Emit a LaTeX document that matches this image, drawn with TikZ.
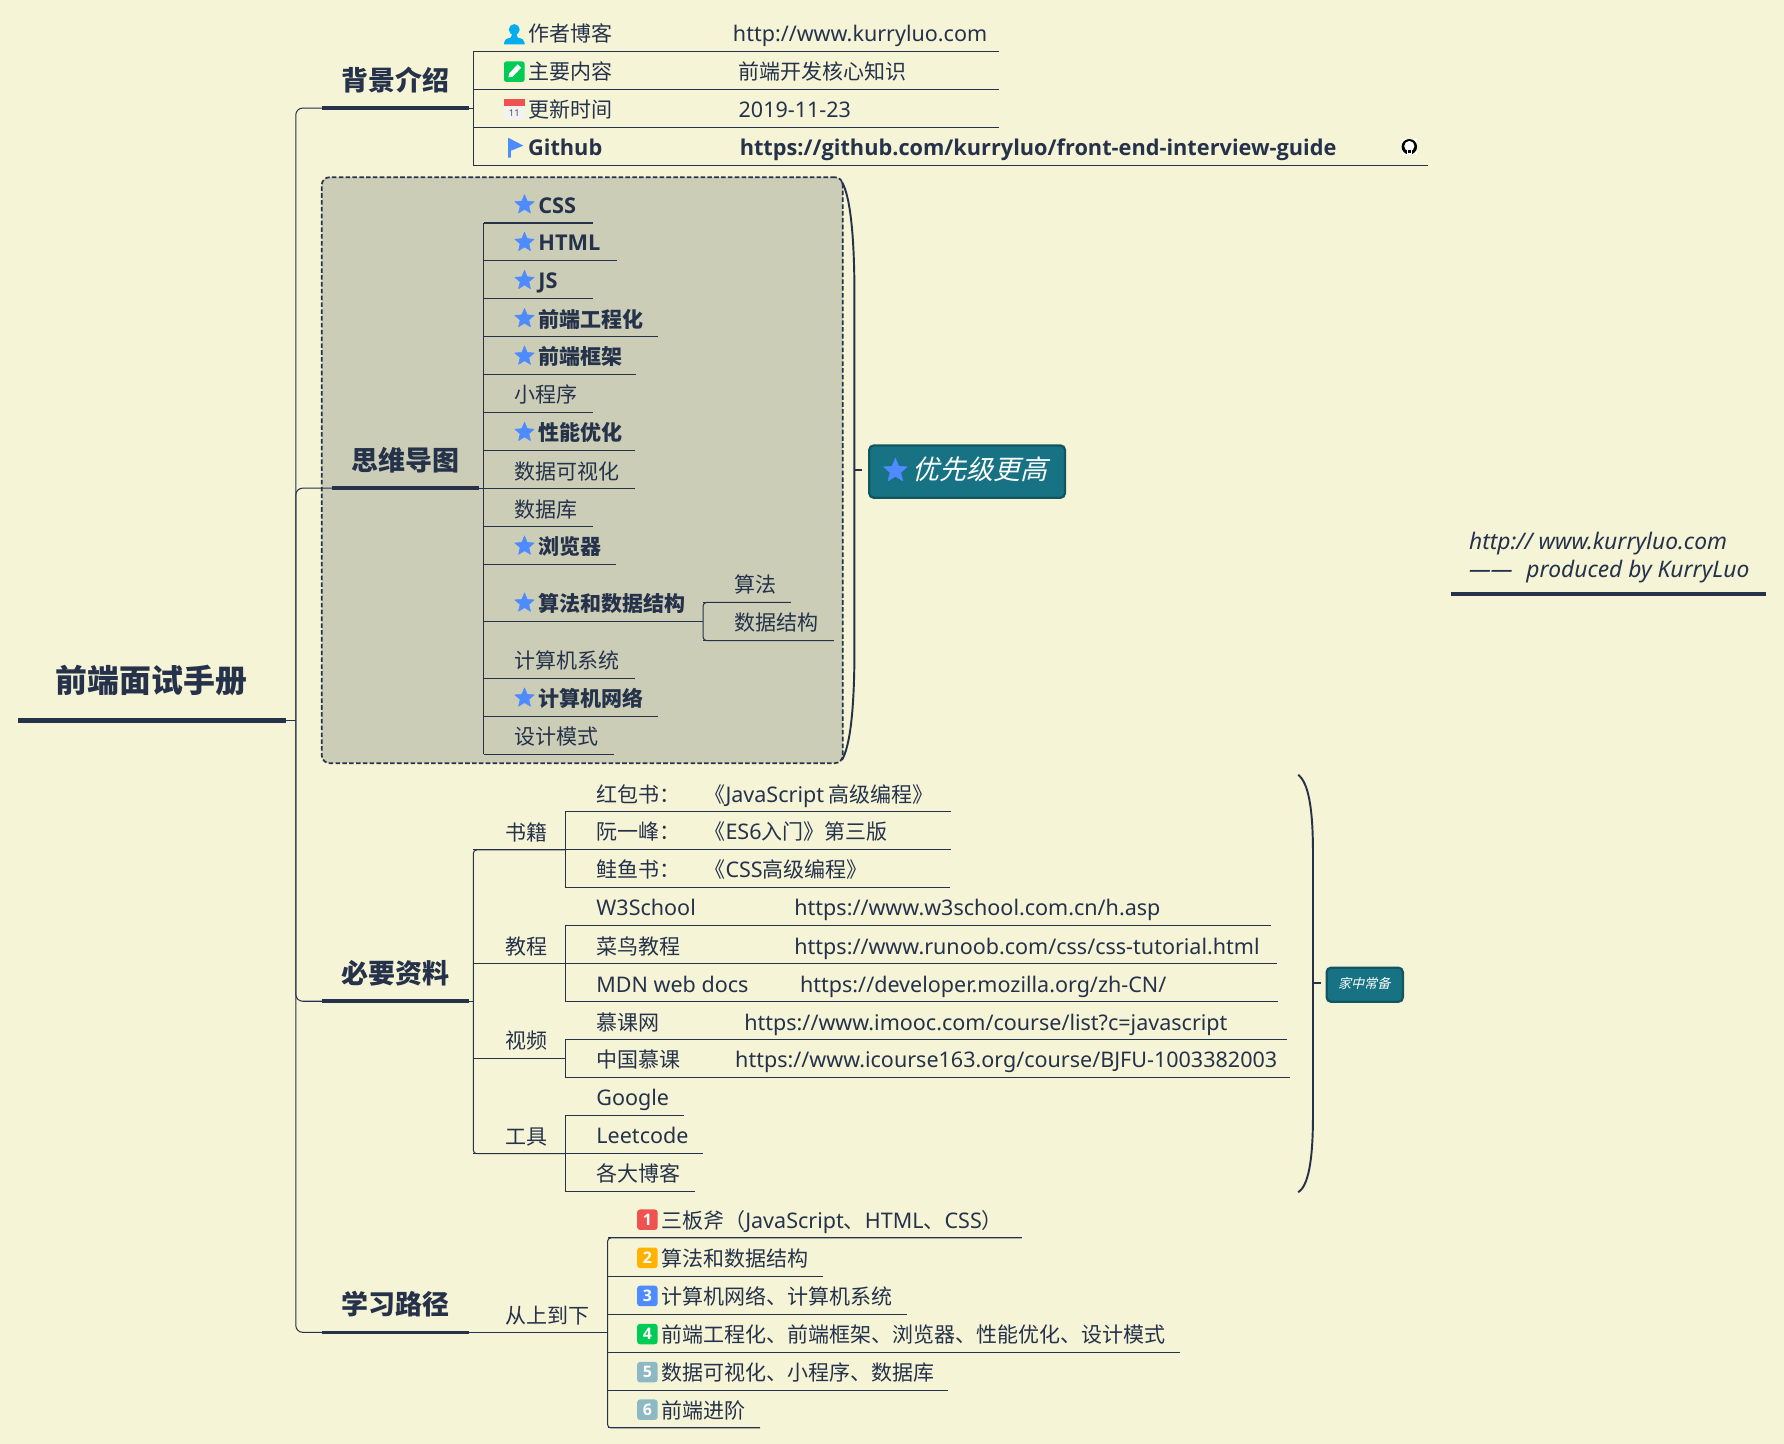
\documentclass[tikz,border=0pt]{standalone}
\usepackage{fontspec}
\setmainfont{Noto Sans CJK SC}
\newfontfamily\lat{Noto Sans}[Scale=1.025]
\newfontfamily\latb{Open Sans}[Scale=1.035]
\newfontfamily\ltit{Noto Sans}[Scale=1.085]
\newfontfamily\cjkit{Noto Sans CJK SC}[FakeSlant=0.25,Color=FFFFFF]
\newcommand{\la}[1]{{\lat #1}}
\newcommand{\lab}[1]{{\latb\bfseries #1}}
\definecolor{bgc}{HTML}{F5F4D7}
\definecolor{ink}{HTML}{25324A}
\definecolor{panelc}{HTML}{CBCDB7}
\definecolor{tealc}{HTML}{177383}
\definecolor{tealb}{HTML}{135560}
\definecolor{starc}{HTML}{4D8BFF}
\definecolor{n1}{HTML}{F0524F}
\definecolor{n2}{HTML}{FFB300}
\definecolor{n4}{HTML}{00CC55}
\definecolor{n5}{HTML}{8CB9C4}
\definecolor{cyanic}{HTML}{00AEEF}
\tikzset{
  link/.style={draw=ink,line width=0.9pt},
  thickl/.style={draw=ink,line width=3.2pt},
  brk/.style={draw=ink,line width=1.7pt},
  txt/.style={anchor=base west,inner sep=0pt,text=ink,font=\fontsize{18.46}{20}\selectfont},
  btxt/.style={txt,font=\fontsize{18.46}{20}\selectfont\bfseries},
  topictxt/.style={anchor=base,inner sep=0pt,text=ink,font=\fontsize{23.7}{26}\selectfont\bfseries},
  badge/.style={draw=tealb,fill=tealc,line width=2pt,rounded corners=4pt},
  staricon/.pic={\fill[starc,draw=starc,line width=0.4pt,line join=round,scale=#1]
    (0,-1)--(.265,-.364)--(.951,-.309)--(.428,.139)--(.588,.809)--(0,.45)--(-.588,.809)--(-.428,.139)--(-.951,-.309)--(-.265,-.364)--cycle;},
  numicon/.pic={\fill[#1,rounded corners=2.5pt] (-9,-9) rectangle (9,9);},
}
\newcommand{\rowl}[6]{% name,x0,x1,yline,textx,text
  \node[txt] (#1) at (#5,#4-8.5) {#6};
  \coordinate (#1L) at (#2,#4); \coordinate (#1R) at (#3,#4);
  \draw[link] (#1L) -- (#1R);}
\newcommand{\rowb}[6]{%
  \node[btxt] (#1) at (#5,#4-8.5) {#6};
  \coordinate (#1L) at (#2,#4); \coordinate (#1R) at (#3,#4);
  \draw[link] (#1L) -- (#1R);}
\newcommand{\rowstar}[5]{% name,x0,x1,yline,text
  \rowb{#1}{#2}{#3}{#4}{473}{#5}
  \path (461,#4-16) pic {staricon=9};}
\newcommand{\topicn}[5]{% name,x0,x1,yline,text
  \node[topictxt] (#1) at ({(#2+#3)/2},#4-15.5) {#5};
  \coordinate (#1L) at (#2,#4); \coordinate (#1R) at (#3,#4);
  \draw[thickl] (#1L) -- (#1R);}
\newcommand{\valn}[4]{\node[txt] (#1) at (#2,#3+1) {#4};}
\newcommand{\numrow}[7]{% name,x1,yline,color,num,text
  \rowl{#1}{534}{#2}{#3}{581}{#6}
  \path (569,#3-16) pic {numicon=#4};
  \node[inner sep=0pt,text=white,font=\fontsize{13.5}{14}\selectfont\latb\bfseries] (#1n) at (569,#3-16) {#5};}
\begin{document}
\begin{tikzpicture}[x=1pt,y=-1pt]
\useasboundingbox (0,0) rectangle (1568,1269.15);
\fill[bgc] (0,0) rectangle (1568,1269.15);

% root
\node[anchor=base,inner sep=0pt,text=ink,font=\fontsize{28}{30}\selectfont\bfseries] (root) at (133,609) {前端面试手册};
\coordinate (rootL) at (16,633); \coordinate (rootR) at (251,633);
\draw[draw=ink,line width=4.5pt] (rootL) -- (rootR);
\coordinate (tr) at (260,633);

% panel first
\node[draw=ink,fill=panelc,line width=1.5pt,dash pattern=on 4pt off 2pt,rounded corners=7pt,minimum width=458pt,minimum height=515pt,anchor=north west,inner sep=0pt] (panel) at (282,155) {};

% topics
\topicn{bg}{283}{412}{95}{背景介绍}
\topicn{mm}{292}{421}{429}{思维导图}
\topicn{zl}{283}{412}{880}{必要资料}
\topicn{lx}{283}{412}{1171}{学习路径}

\draw[link] (rootR) -- (tr);
\draw[link,rounded corners=6pt] (bgL) -| (tr) |- (lxL);
\draw[link,rounded corners=6pt] (mmL) -| (tr);
\draw[link,rounded corners=6pt] (zlL) -| (tr);

% background rows
\rowl{a1}{416}{878}{45}{464}{作者博客}
\rowl{a2}{416}{878}{78.5}{464}{主要内容}
\rowl{a3}{416}{878}{112}{464}{更新时间}
\rowb{a4}{416}{1255}{145.5}{464}{\lab{Github}}
\draw[link] (a1L) -- (a4L);
\coordinate (bgj) at (416,95);
\draw[link] (bgR) -- (bgj);
\valn{a1v}{644}{35.5}{\la{http://www.kurryluo.com}}
\valn{a2v}{649}{69}{前端开发核心知识}
\valn{a3v}{649}{102.5}{\la{2019-11-23}}
\node[btxt] (a4v) at (650,137) {\lab{https://github.com/kurryluo/front-end-interview-guide}};
% icons
\fill[cyanic] (452,26) circle (4.8);
\fill[cyanic] (450,30)--(454,30)--(455,33) .. controls (459,34) and (461,35) .. (461,37.5) -- (461,39) -- (443,39) -- (443,37.5) .. controls (443,35) and (445,34) .. (449,33) -- cycle;
\fill[n4,rounded corners=2pt] (443,54) rectangle (461,72);
\fill[white] (447,68)--(447.5,64.5)--(455,56.5)--(458,59.5)--(450.5,67.5)--cycle;
\fill[white!95!black] (443,87) rectangle (461,105.5);
\fill[n1] (443,87) rectangle (461,93);
\node[inner sep=0pt,text=black!70,font=\fontsize{8}{9}\selectfont\lat] (cal) at (452,99.8) {11};
\fill[starc] (446.5,121)--(460,128)--(449,132.5)--(449,138.6)--(446.5,138.6)--cycle;
\fill[white] (1232,122.5) rectangle (1245.5,136);
\fill[black] (1238.7,129) circle (6.8);
\fill[white] (1238.7,128.4) circle (4.5);
\fill[white] (1236.2,130) rectangle (1241.2,136);
\fill[black] (1237.6,132) rectangle (1239.8,134.5);

% mind map rows
\rowstar{b1}{425}{521}{196}{\lab{CSS}}
\rowstar{b2}{425}{542}{229}{\lab{HTML}}
\rowstar{b3}{425}{521}{262.5}{\lab{JS}}
\rowstar{b4}{425}{578}{296}{前端工程化}
\rowstar{b5}{425}{559}{329}{前端框架}
\rowl{b6}{425}{521}{362.5}{452}{小程序}
\rowstar{b7}{425}{558}{396}{性能优化}
\rowl{b8}{425}{558}{429.5}{452}{数据可视化}
\rowl{b9}{425}{521}{463}{452}{数据库}
\rowstar{b10}{425}{541}{496}{浏览器}
\rowstar{b11}{425}{618}{546}{算法和数据结构}
\rowl{b12}{425}{558}{596}{452}{计算机系统}
\rowstar{b13}{425}{578}{629.5}{计算机网络}
\rowl{b14}{425}{540}{663}{452}{设计模式}
\draw[link] (b1L) -- (b14L);
\draw[link] (mmR) -- ++(4,0);
\rowl{c1}{618}{695}{529.5}{645}{算法}
\rowl{c2}{618}{733}{563}{645}{数据结构}
\draw[link,rounded corners=3pt] (c1R) -- (c1L) -- (c2L) -- (c2R);

% priority bracket
\coordinate (br1s) at (740,160); \coordinate (br1e) at (740,668);
\coordinate (br1m) at (751,413); \coordinate (br1t) at (758,413);
\node[badge,minimum width=172pt,minimum height=46pt,inner sep=0pt,anchor=north west] (pri) at (763,390.5) {};
\node[inner sep=0pt,anchor=base west,font=\fontsize{23.7}{26}\selectfont] (pritx) at (802,421.5) {{\cjkit 优先级更高}};
\path (787,413.7) pic {staricon=11};
\draw[brk] (br1s) .. controls (747,172) and (751,205) .. (751,260) -- (br1m) -- (751,570) .. controls (751,625) and (747,656) .. (br1e);
\draw[brk] (br1m) -- (br1t);

% resources
\rowl{d1}{416}{497}{747}{444}{书籍}
\rowl{d2}{416}{497}{847}{444}{教程}
\rowl{d3}{416}{497}{930}{444}{视频}
\rowl{d4}{416}{497}{1014}{444}{工具}
\draw[link,rounded corners=3pt] (d1R) -- (d1L) -- (d4L) -- (d4R);
\draw[link] (zlR) -- ++(4,0);

\rowl{e1}{497}{836}{713.5}{524}{红包书：}
\rowl{e2}{497}{836}{746.5}{524}{阮一峰：}
\rowl{e3}{497}{835}{780}{524}{鲑鱼书：}
\draw[link] (e1L) -- (e3L);
\valn{e1v}{619}{704}{《\la{JavaScript} 高级编程》}
\valn{e2v}{619}{737}{《\la{ES6}入门》第三版}
\valn{e3v}{619}{770.5}{《\la{CSS}高级编程》}

\rowl{f1}{497}{1117}{813.5}{524}{\la{W3School}}
\rowl{f2}{497}{1122}{847}{524}{菜鸟教程}
\rowl{f3}{497}{1123}{880.5}{524}{\la{MDN web docs}}
\draw[link] (f1L) -- (f3L);
\valn{f1v}{698}{804}{\la{https://www.w3school.com.cn/h.asp}}
\valn{f2v}{698}{837.5}{\la{https://www.runoob.com/css/css-tutorial.html}}
\valn{f3v}{703}{871}{\la{https://developer.mozilla.org/zh-CN/}}

\rowl{g1}{497}{1131}{914}{524}{慕课网}
\rowl{g2}{497}{1134}{947}{524}{中国慕课}
\draw[link] (g1L) -- (g2L);
\valn{g1v}{654}{904.5}{\la{https://www.imooc.com/course/list?c=javascript}}
\valn{g2v}{646}{937.5}{\la{https://www.icourse163.org/course/BJFU-1003382003}}

\rowl{h1}{497}{601}{980}{524}{\la{Google}}
\rowl{h2}{497}{618}{1013.5}{524}{\la{Leetcode}}
\rowl{h3}{497}{611}{1047}{524}{各大博客}
\draw[link] (h1L) -- (h3L);

% second bracket
\coordinate (br2s) at (1141,681); \coordinate (br2e) at (1141,1048);
\coordinate (br2m) at (1154,864); \coordinate (br2t) at (1161,864);
\node[badge,minimum width=67pt,minimum height=30pt,inner sep=0pt,anchor=north west] (home) at (1165,849.5) {};
\node[inner sep=0pt,font=\fontsize{11.5}{12}\selectfont] (hometx) at (1199,864.5) {{\cjkit 家中常备}};
\draw[brk] (br2s) .. controls (1150,688) and (1154,710) .. (1154,750) -- (br2m) -- (1154,980) .. controls (1154,1020) and (1150,1042) .. (br2e);
\draw[brk] (br2m) -- (br2t);

% learning path
\rowl{p0}{412}{534}{1171.5}{444}{从上到下}
\numrow{p1}{898}{1088}{n1}{1}{三板斧（\la{JavaScript}、\la{HTML}、\la{CSS}）}{}
\numrow{p2}{723}{1121.5}{n2}{2}{算法和数据结构}{}
\numrow{p3}{797}{1155}{starc}{3}{计算机网络、计算机系统}{}
\numrow{p4}{1037}{1188.5}{n4}{4}{前端工程化、前端框架、浏览器、性能优化、设计模式}{}
\numrow{p5}{833}{1222}{n5}{5}{数据可视化、小程序、数据库}{}
\numrow{p6}{668}{1255}{n5}{6}{前端进阶}{}
\draw[link,rounded corners=3pt] (p1R) -- (p1L) -- (p6L) -- (p6R);

% signature
\node[txt,font=\fontsize{18.46}{20}\selectfont\ltit\itshape] (sig1) at (1291,483) {http:// www.kurryluo.com};
\node[txt,font=\fontsize{18.46}{20}\selectfont\ltit\itshape] (sig2) at (1291,507.5) {——\hspace{12pt}produced by KurryLuo};
\coordinate (sigL) at (1275,522); \coordinate (sigR) at (1552,522);
\draw[thickl] (sigL) -- (sigR);
\end{tikzpicture}
\end{document}
